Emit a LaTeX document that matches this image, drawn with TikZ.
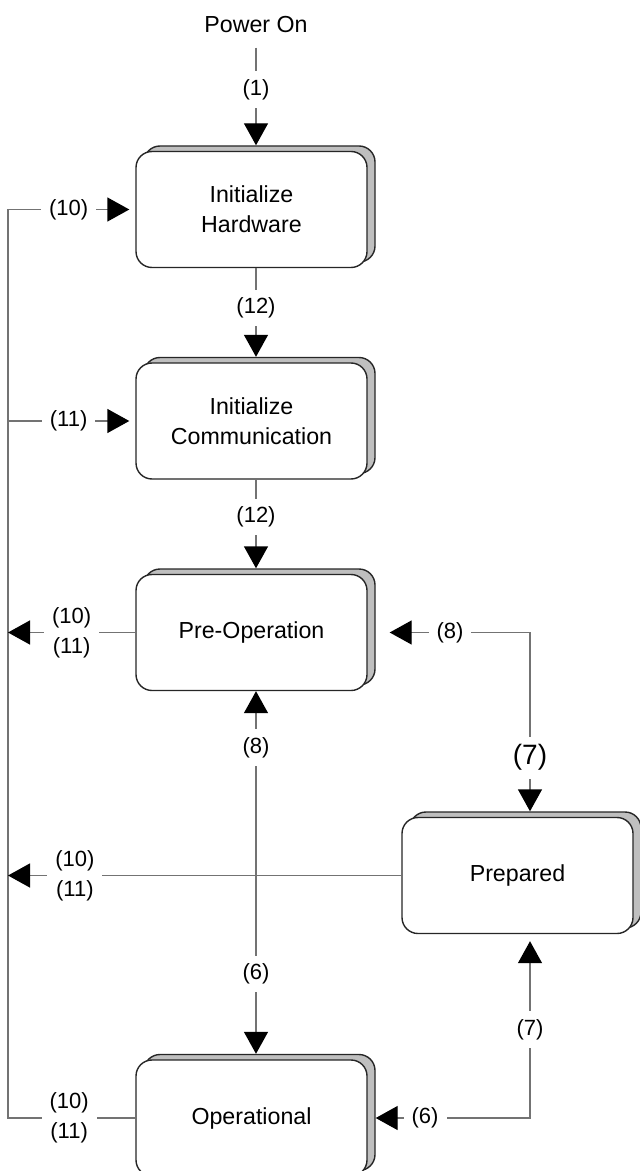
\documentclass[tikz,border=0pt]{standalone}
\usepackage{fontspec}
\setmainfont{Liberation Sans}
\usetikzlibrary{arrows.meta,shadows}

\begin{document}
\begin{tikzpicture}[
      x=0.5pt, y=-0.5pt,
      node distance=105.75pt,
      state/.style={draw=black!85, line width=0.7pt, fill=white, rounded corners=8pt,
        minimum width=115.5pt, minimum height=58pt, align=center,
        font=\fontsize{11.6}{15}\selectfont,
        copy shadow={shadow xshift=4pt, shadow yshift=2.75pt, fill=black!25, draw=black!85}},
      arrow/.style={draw=black!55, line width=0.7pt, -{Triangle[length=11pt, width=12pt, color=black, fill=black]}},
      both/.style={draw=black!55, line width=0.7pt,
        {Triangle[length=11pt, width=12pt, color=black, fill=black]}-{Triangle[length=11pt, width=12pt, color=black, fill=black]}},
      lbl/.style={fill=white, inner sep=4pt, align=center, font=\fontsize{11}{15}\selectfont}
    ]
    \useasboundingbox (0,0) rectangle (639,1171);

    % States
    \node[font=\fontsize{11.6}{14}\selectfont, inner sep=0pt] (power) at (256,25) {Power On};
    \node[state] (hw) at (251.5,209.5) {Initialize\\Hardware};
    \node[state, below of=hw] (comm) {Initialize\\Communication};
    \node[state, below of=comm] (preop) {Pre-Operation};
    \node[state] (prep) at (517.5,875.5) {Prepared};
    \node[state] (op) at (251.5,1118) {Operational};

    % Wire columns
    \coordinate (bus) at (8,0);
    \coordinate (mid) at (256,0);
    \coordinate (rbus) at (530,0);

    % Transitions
    \draw[arrow, shorten <=7pt] (power.south) -- node[lbl]{(1)} ([yshift=2.75pt]mid |- hw.north);
    \draw[arrow] (mid |- hw.south) -- node[lbl, pos=0.45]{(12)} ([yshift=2.75pt]mid |- comm.north);
    \draw[arrow] (mid |- comm.south) -- node[lbl, pos=0.42]{(12)} ([yshift=2.75pt]mid |- preop.north);

    % Reset lines on the left
    \draw[arrow] (op.west) -- node[lbl, pos=0.52]{(10)\\(11)} (bus |- op.west)
      -- (bus |- hw.west) -- node[lbl]{(10)} ([xshift=-3pt]hw.west);
    \draw[arrow] (bus |- comm.west) -- node[lbl]{(11)} ([xshift=-3pt]comm.west);
    \draw[arrow] (preop.west) -- node[lbl]{(10)\\(11)} (bus |- preop.west);
    \draw[arrow] (prep.west) -- node[lbl, pos=0.83]{(10)\\(11)} (bus |- prep.west);

    % Pre-Operation, Prepared and Operational
    \draw[both] ([xshift=11pt]preop.east) -- node[lbl, pos=0.43]{(8)} (rbus |- preop.east)
      -- node[lbl, pos=0.7, font=\fontsize{14}{16}\selectfont]{(7)} ([yshift=2.75pt]rbus |- prep.north);
    \draw[both] ([xshift=4pt]op.east) -- node[lbl, pos=0.32]{(6)} (rbus |- op.east)
      -- node[lbl]{(7)} ([yshift=-3.5pt]rbus |- prep.south);
    \draw[both] (mid |- preop.south) -- node[lbl, pos=0.155]{(8)} node[lbl, pos=0.78]{(6)}
      ([yshift=2.75pt]mid |- op.north);
  \end{tikzpicture}
\end{document}
